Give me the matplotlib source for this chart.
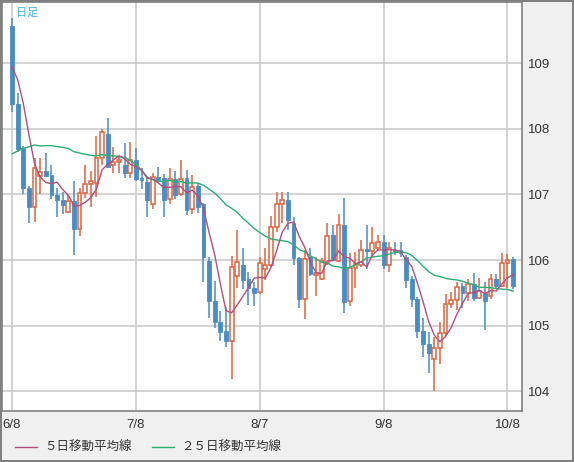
import numpy as np
import matplotlib.pyplot as plt
from matplotlib.patches import Rectangle
from matplotlib.lines import Line2D

# daily candles 6/8 .. 10/9
opens = [109.57, 108.37, 107.70, 107.10, 106.80, 107.28, 107.36, 107.30, 106.99, 106.91,
         106.73, 106.90, 106.47, 107.02, 107.16, 107.18, 107.55, 107.92, 107.45, 107.50,
         107.45, 107.33, 107.53, 107.25, 107.19, 106.86, 107.26, 107.25, 106.93, 107.23,
         107.00, 107.25, 106.77, 107.13, 106.85, 105.99, 105.38, 105.06, 104.92, 104.76,
         105.76, 105.92, 105.71, 105.57, 105.51, 105.86, 105.92, 106.50, 106.85, 106.91,
         106.57, 106.03, 105.40, 106.04, 105.77, 105.71, 105.95, 106.38, 105.99, 106.53,
         105.37, 105.88, 105.93, 106.17, 106.13, 106.18, 106.28, 105.93, 106.16, 106.15,
         106.04, 105.71, 105.41, 104.92, 104.72, 104.49, 104.66, 104.89, 105.33, 105.39,
         105.61, 105.49, 105.63, 105.42, 105.50, 105.45, 105.71, 105.61, 105.95, 106.01]
highs = [109.69, 108.54, 107.74, 107.12, 107.55, 107.55, 107.63, 107.45, 107.10, 107.04,
         106.99, 107.21, 107.10, 107.45, 107.36, 107.89, 107.99, 108.17, 107.72, 107.57,
         107.78, 107.79, 107.70, 107.40, 107.25, 107.33, 107.41, 107.31, 107.40, 107.36,
         107.52, 107.37, 107.29, 107.18, 106.87, 106.05, 105.68, 105.23, 105.29, 106.06,
         106.46, 106.19, 105.82, 105.67, 106.04, 106.19, 106.67, 107.03, 107.04, 107.04,
         106.65, 106.05, 106.15, 106.19, 106.04, 106.03, 106.56, 106.53, 106.70, 106.94,
         106.10, 106.12, 106.30, 106.54, 106.50, 106.38, 106.38, 106.28, 106.28, 106.27,
         106.08, 105.75, 105.44, 105.11, 104.91, 104.83, 105.06, 105.48, 105.52, 105.67,
         105.65, 105.71, 105.80, 105.72, 105.67, 105.79, 105.79, 106.11, 106.09, 106.04]
lows = [108.25, 107.65, 107.01, 106.57, 106.58, 107.01, 107.26, 106.93, 106.66, 106.70,
        106.72, 106.07, 106.37, 106.94, 106.81, 106.96, 107.45, 107.42, 107.33, 107.33,
        107.25, 107.25, 107.20, 107.08, 106.65, 106.78, 107.18, 106.66, 106.85, 106.93,
        106.97, 106.68, 106.70, 106.71, 105.67, 105.11, 104.96, 104.76, 104.67, 104.18,
        105.57, 105.56, 105.32, 105.30, 105.48, 105.70, 105.90, 106.43, 106.57, 106.46,
        105.93, 105.27, 105.10, 105.76, 105.45, 105.70, 105.93, 105.98, 105.97, 105.20,
        105.30, 105.57, 105.90, 105.86, 106.05, 106.15, 105.86, 105.81, 106.08, 106.05,
        105.57, 105.29, 104.81, 104.53, 104.28, 104.01, 104.42, 104.85, 105.27, 105.24,
        105.27, 105.37, 105.38, 105.40, 104.94, 105.40, 105.58, 105.59, 105.57, 105.56]
closes = [108.37, 107.69, 107.09, 106.80, 107.40, 107.34, 107.28, 106.99, 106.92, 106.84,
          106.90, 106.47, 107.02, 107.16, 107.20, 107.55, 107.95, 107.42, 107.50, 107.52,
          107.33, 107.53, 107.23, 107.22, 106.92, 107.26, 107.22, 106.91, 107.23, 106.99,
          107.23, 106.76, 107.11, 106.81, 106.05, 105.37, 105.05, 104.91, 104.76, 105.89,
          105.97, 105.70, 105.57, 105.49, 105.95, 105.92, 106.50, 106.85, 106.91, 106.61,
          106.03, 105.40, 106.01, 105.78, 105.80, 105.99, 106.37, 106.00, 106.53, 105.36,
          105.88, 105.94, 106.16, 106.13, 106.26, 106.28, 105.93, 106.18, 106.13, 106.11,
          105.69, 105.40, 104.92, 104.72, 104.58, 104.66, 104.89, 105.33, 105.39, 105.59,
          105.49, 105.64, 105.42, 105.53, 105.37, 105.71, 105.61, 105.95, 106.00, 105.61]
# closes before 6/8, only needed for the moving averages
prior_close = [106.58, 106.08, 106.27, 106.65, 107.73, 107.14, 107.00, 107.28, 107.12, 107.33,
               107.71, 107.53, 107.62, 107.62, 107.73, 107.52, 107.73, 107.62, 107.83, 107.60,
               108.67, 108.90, 109.18, 109.60]

tick_idx = [0, 22, 44, 66, 88]
tick_lbl = ['6/8', '7/8', '8/7', '9/8', '10/8']
y_ticks = [104, 105, 106, 107, 108, 109]

all_close = np.array(prior_close + closes)
ma5 = np.convolve(all_close, np.ones(5) / 5, mode='valid')[-len(closes):]
ma25 = np.convolve(all_close, np.ones(25) / 25, mode='valid')[-len(closes):]

up_col = '#dc6440'
dn_col = '#4a8cc4'
ma5_col = '#b0507e'
ma25_col = '#2cae72'

fig = plt.figure(figsize=(5.74, 4.62), dpi=100)
fig.patch.set_facecolor('#f0f0f0')
fig.patch.set_edgecolor('#808080')
fig.patch.set_linewidth(1.5)

ax = fig.add_axes([2 / 574, 51 / 462, 520 / 574, 409 / 462])
ax.set_facecolor('white')
ax.set_xlim(-1.78, 90.58)
ax.set_ylim(103.70, 109.93)

x = np.arange(len(closes))
w = 0.68
for i in x:
    o, h, l, c = opens[i], highs[i], lows[i], closes[i]
    col = up_col if c >= o else dn_col
    ax.vlines(i, l, h, color=col, lw=1.1, zorder=3)
    lo, hi = min(o, c), max(o, c)
    if c >= o:
        ax.add_patch(Rectangle((i - w / 2, lo), w, max(hi - lo, 0.01), facecolor='white',
                               edgecolor=col, lw=1.1, zorder=4))
    else:
        ax.add_patch(Rectangle((i - w / 2, lo), w, max(hi - lo, 0.01), facecolor=col,
                               edgecolor=col, lw=0.6, zorder=4))

ax.plot(x, ma25, color=ma25_col, lw=1.0, zorder=5)
ax.plot(x, ma5, color=ma5_col, lw=1.0, zorder=6)

ax.set_xticks(tick_idx)
ax.set_xticklabels(tick_lbl)
ax.set_yticks(y_ticks)
ax.set_yticklabels([str(v) for v in y_ticks])
ax.yaxis.tick_right()
ax.tick_params(axis='both', length=0, labelsize=9.5, colors='#333333',
               labelfontfamily='Liberation Sans')
ax.tick_params(axis='y', pad=4)
ax.tick_params(axis='x', pad=6)
ax.grid(True, color='#c8c8c8', lw=1.1, zorder=0)
ax.set_axisbelow(True)
for s in ax.spines.values():
    s.set_color('#808080')
    s.set_linewidth(1.2)

ax.text(0.027, 0.985, '日足', transform=ax.transAxes, ha='left', va='top',
        fontsize=8, color='#3cb4e6', family=['Noto Sans CJK JP', 'DejaVu Sans'])

# legend along the bottom
ly = 1 - 447 / 462
fig.add_artist(Line2D([15 / 574, 37 / 574], [ly, ly], color=ma5_col, lw=1.0))
fig.text(44 / 574, ly, '５日移動平均線', va='center', ha='left', fontsize=9,
         color='#333333', family=['Noto Sans CJK JP', 'DejaVu Sans'])
fig.add_artist(Line2D([152 / 574, 174 / 574], [ly, ly], color=ma25_col, lw=1.0))
fig.text(181 / 574, ly, '２５日移動平均線', va='center', ha='left', fontsize=9,
         color='#333333', family=['Noto Sans CJK JP', 'DejaVu Sans'])

fig.savefig('out.png', dpi=100, facecolor=fig.get_facecolor(), edgecolor=fig.get_edgecolor())
